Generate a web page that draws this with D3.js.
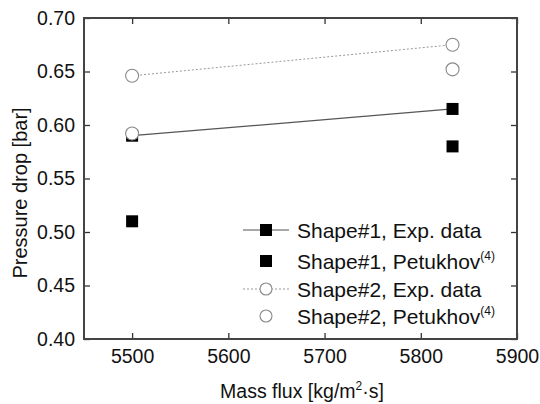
<!DOCTYPE html>
<html lang="en">
<head>
<meta charset="utf-8">
<title>pressure drop</title>
<style>
  body { margin: 0; background: #fff; }
  svg text { font-family: "Liberation Sans", Arial, sans-serif; fill: #111; }
  .tick text { font-size: 19.5px; }
  .axis path { display: none; }
  .axis line { stroke: #333; stroke-width: 1.3px; }
</style>
</head>
<body>
<script src="https://cdnjs.cloudflare.com/ajax/libs/d3/7.8.5/d3.min.js"></script>
<script>
var massFlux = [5500, 5833];
var shape1Exp = [0.590, 0.615];
var shape1Pet = [0.510, 0.580];
var shape2Exp = [0.646, 0.675];
var shape2Pet = [0.592, 0.652];
var xTicks = [5500, 5600, 5700, 5800, 5900];
var yTicks = [0.40, 0.45, 0.50, 0.55, 0.60, 0.65, 0.70];
var legendLabels = ["Shape#1, Exp. data", "Shape#1, Petukhov", "Shape#2, Exp. data", "Shape#2, Petukhov"];

var W = 540, H = 404;
var margin = { top: 18, right: 23, bottom: 65, left: 84 };
var width = W - margin.left - margin.right;
var height = H - margin.top - margin.bottom;

var svg = d3.select("body").append("svg")
  .attr("width", W).attr("height", H);
var g = svg.append("g")
  .attr("transform", "translate(" + margin.left + "," + margin.top + ")");

var x = d3.scaleLinear().domain([5450, 5900]).range([0, width]);
var y = d3.scaleLinear().domain([0.40, 0.70]).range([height, 0]);

// axes, ticks pointing inward on all four sides
g.append("g").attr("class", "axis")
  .attr("transform", "translate(0," + height + ")")
  .call(d3.axisBottom(x).tickValues(xTicks).tickSizeInner(-6).tickSizeOuter(0).tickPadding(10).tickFormat(d3.format("d")));
g.append("g").attr("class", "axis")
  .call(d3.axisTop(x).tickValues(xTicks).tickSizeInner(-6).tickSizeOuter(0).tickFormat(""));
g.append("g").attr("class", "axis")
  .call(d3.axisLeft(y).tickValues(yTicks).tickSizeInner(-6).tickSizeOuter(0).tickPadding(9).tickFormat(d3.format(".2f")));
g.append("g").attr("class", "axis")
  .attr("transform", "translate(" + width + ",0)")
  .call(d3.axisRight(y).tickValues(yTicks).tickSizeInner(-6).tickSizeOuter(0).tickFormat(""));

g.append("rect")
  .attr("width", width).attr("height", height)
  .attr("fill", "none").attr("stroke", "#444").attr("stroke-width", 2);

function pts(vals) {
  return vals.map(function(v, i) { return [massFlux[i], v]; });
}
var line = d3.line().x(function(d) { return x(d[0]); }).y(function(d) { return y(d[1]); });

g.append("path").datum(pts(shape2Exp)).attr("d", line)
  .attr("fill", "none").attr("stroke", "#999").attr("stroke-width", 1).attr("stroke-dasharray", "2,2");
g.append("path").datum(pts(shape1Exp)).attr("d", line)
  .attr("fill", "none").attr("stroke", "#555").attr("stroke-width", 1.2);

var sq = 12, r = 6.5;
function squares(vals) {
  g.selectAll(null).data(pts(vals)).enter().append("rect")
    .attr("x", function(d) { return x(d[0]) - sq / 2; })
    .attr("y", function(d) { return y(d[1]) - sq / 2; })
    .attr("width", sq).attr("height", sq).attr("fill", "#000");
}
function circles(vals) {
  g.selectAll(null).data(pts(vals)).enter().append("circle")
    .attr("cx", function(d) { return x(d[0]); })
    .attr("cy", function(d) { return y(d[1]); })
    .attr("r", r).attr("fill", "#fff").attr("stroke", "#888").attr("stroke-width", 1.1);
}
squares(shape1Exp);
squares(shape1Pet);
circles(shape2Exp);
circles(shape2Pet);

// legend
var legY = [230, 261, 289, 316];
var legX = 266;
legendLabels.forEach(function(lbl, i) {
  var ly = legY[i];
  if (i === 0) svg.append("line").attr("x1", legX - 23).attr("x2", legX + 23).attr("y1", ly).attr("y2", ly)
    .attr("stroke", "#555").attr("stroke-width", 1.2);
  if (i === 2) svg.append("line").attr("x1", legX - 23).attr("x2", legX + 23).attr("y1", ly).attr("y2", ly)
    .attr("stroke", "#999").attr("stroke-width", 1).attr("stroke-dasharray", "2,2");
  if (i < 2) svg.append("rect").attr("x", legX - 6).attr("y", ly - 6).attr("width", 12).attr("height", 12).attr("fill", "#000");
  else svg.append("circle").attr("cx", legX).attr("cy", ly).attr("r", 6).attr("fill", "#fff").attr("stroke", "#888").attr("stroke-width", 1.1);
  var t = svg.append("text").attr("x", 297).attr("y", ly + 8).style("font-size", "21px").text(lbl);
  if (i === 1 || i === 3) t.append("tspan").attr("dy", -9).style("font-size", "12px").text("(4)");
});

// axis titles
var xt = svg.append("text").attr("x", 302).attr("y", 398)
  .attr("text-anchor", "middle").style("font-size", "19.5px").text("Mass flux [kg/m");
xt.append("tspan").attr("dy", -8).style("font-size", "12px").text("2");
xt.append("tspan").attr("dy", 8).text("·s]");

svg.append("text")
  .attr("transform", "translate(27,193) rotate(-90)")
  .attr("text-anchor", "middle").style("font-size", "20px").text("Pressure drop [bar]");
</script>
</body>
</html>
